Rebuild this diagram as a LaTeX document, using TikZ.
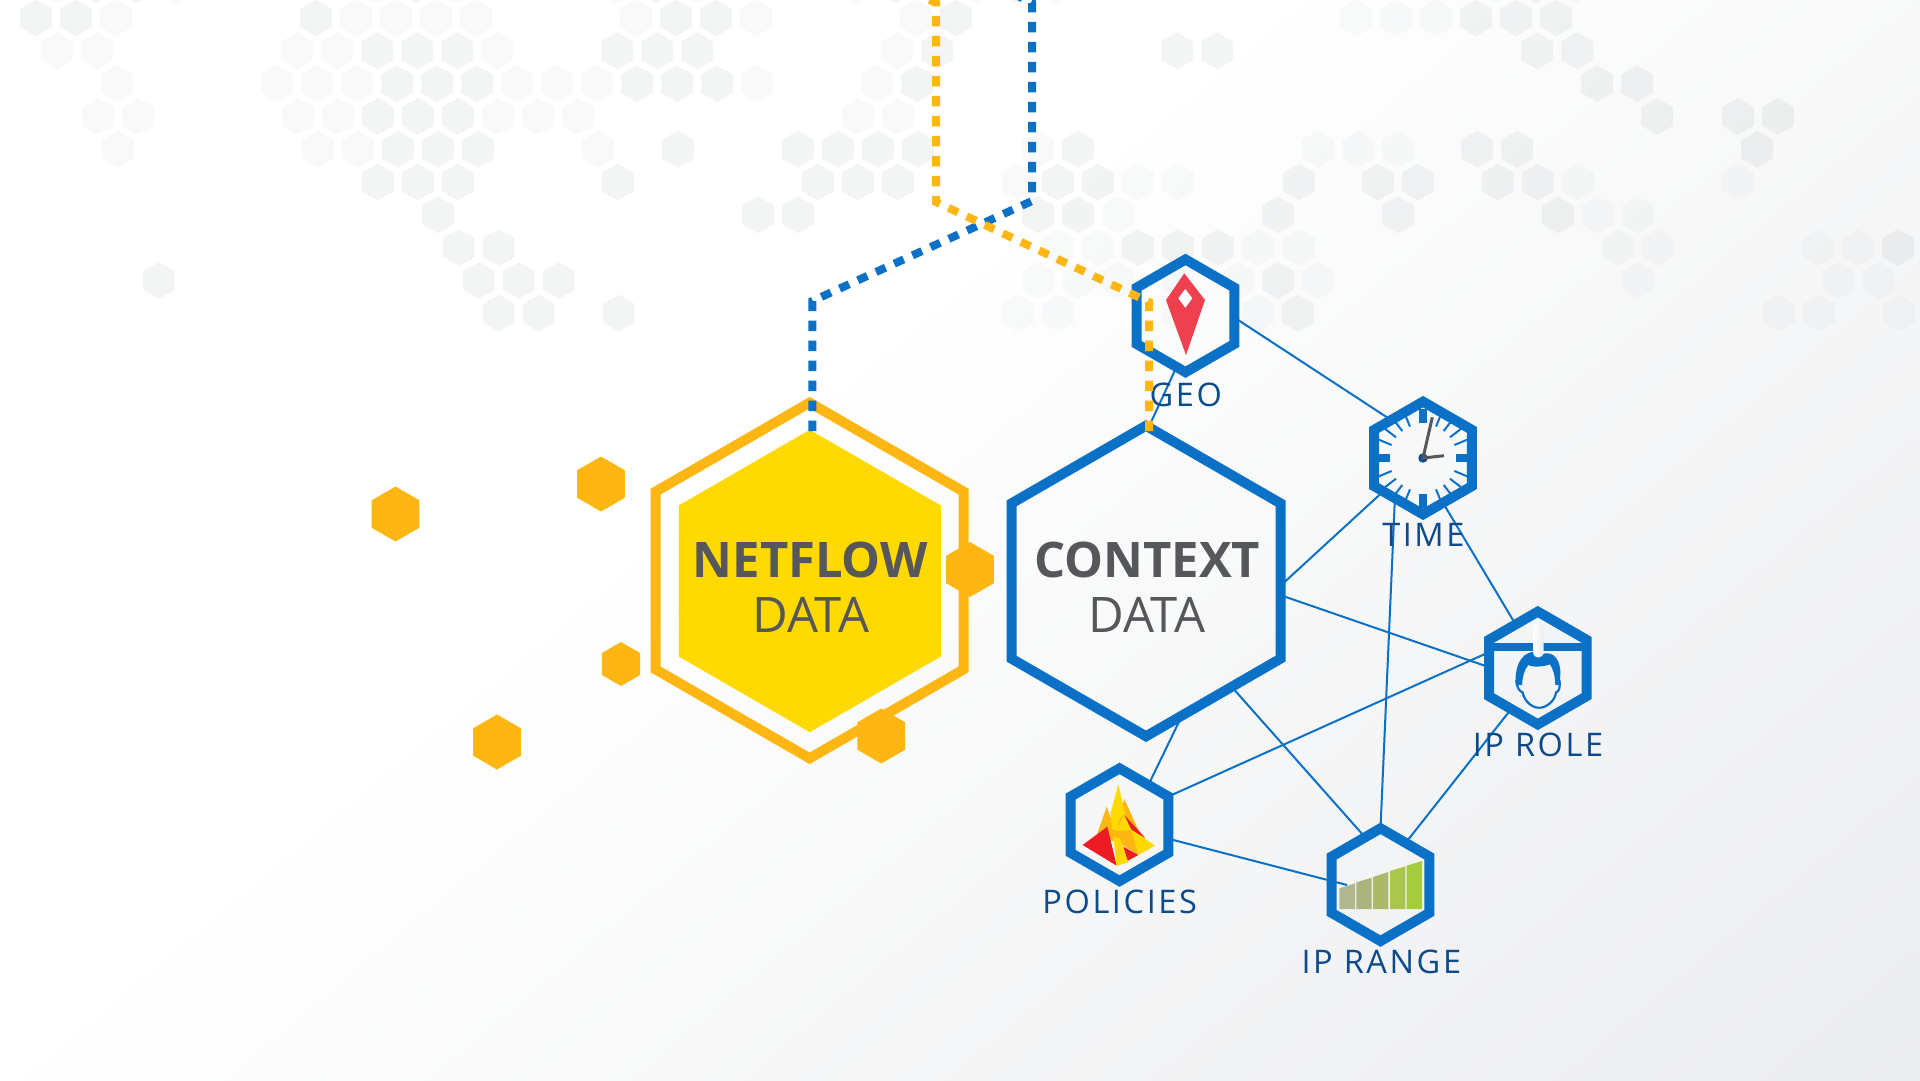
\documentclass[tikz,border=0pt]{standalone}
\usepackage{fontspec}
\usetikzlibrary{shapes.geometric}
\setmainfont{Open Sans}
\newfontfamily\tagfont[LetterSpace=8]{Open Sans}
\definecolor{wash}{HTML}{EBECEE}
\definecolor{mapgray}{HTML}{4E5F62}
\definecolor{linkblue}{HTML}{0A71C6}
\definecolor{tagblue}{HTML}{0B4A8B}
\definecolor{amber}{HTML}{FEB612}
\definecolor{netyellow}{HTML}{FFD900}
\definecolor{inkgray}{HTML}{55575A}
\definecolor{pinred}{HTML}{EF404F}
\definecolor{firered}{HTML}{ED1C24}
\definecolor{barone}{HTML}{B0B78C}
\definecolor{bartwo}{HTML}{ABB47D}
\definecolor{barthree}{HTML}{ABB968}
\definecolor{barfour}{HTML}{ABC64F}
\definecolor{barfive}{HTML}{A5CC3A}
\pgfdeclarehorizontalshading{washfill}{100bp}{color(0bp)=(white); color(46bp)=(white); color(68.4bp)=(wash); color(100bp)=(wash)}
\begin{document}
\begin{tikzpicture}[
  x=1pt,
  y=-1pt,
  hexbase/.style={
    regular polygon,
    regular polygon sides=6,
    shape border rotate=30,
    inner sep=0pt,
    outer sep=0pt
  },
  hexdark/.style={hexbase, fill=mapgray, fill opacity=0.065, minimum size=36.8pt},
  hexlight/.style={hexbase, fill=mapgray, fill opacity=0.03, minimum size=36.8pt},
  spark/.style={hexbase, fill=amber, minimum size=55pt},
  bigring/.style={hexbase, draw=linkblue, line width=10pt, minimum size=310.6pt},
  iconring/.style={hexbase, draw=linkblue, line width=10pt, minimum size=112.7pt},
  link/.style={draw=linkblue, line width=2pt},
  bluedash/.style={draw=linkblue, line width=8pt, dash pattern=on 10.5pt off 9.5pt},
  amberdash/.style={draw=amber, line width=8pt, dash pattern=on 10.5pt off 9.5pt},
  headline/.style={font=\bfseries\fontsize{49}{51}\selectfont, text=inkgray, inner sep=0pt, text height=35pt, text depth=0pt},
  subline/.style={font=\fontsize{49}{51}\selectfont, text=inkgray, inner sep=0pt, text height=35pt, text depth=0pt},
  tag/.style={font=\tagfont\fontsize{32.5}{34}\selectfont, text=tagblue, inner sep=0pt, text height=23.2pt, text depth=0pt}
]
\useasboundingbox (0,0) rectangle (1920,1080);

% Background wash.
\begin{scope}
  \clip (0,0) rectangle (1920,1080);
  \shade[shading=washfill, shading angle=-50] (-440,-860) rectangle (2360,1940);
\end{scope}

% Map of pale hexagons.
\foreach \row/\cols in {
  -15/{96,136,416,656,896,1016,1536},
  18/{36,76,316,676,716,956,1476,1516,1556},
  50.8/{377,417,457,617,657,697,937,1177,1217,1537,1577},
  83.6/{397,437,477,637,677,717,917,1597,1637},
  116.4/{378,418,458,1657,1738,1778},
  149.2/{398,438,478,678,798,838,878,918,1078,1477,1517,1757},
  182/{378,418,458,618,818,858,898,1058,1098,1299,1378,1418,1498,1538},
  214.8/{438,758,798,1038,1078,1278,1398,1558},
  247.6/{459,499,1138,1178,1218,1898},
  280.4/{159,479,519,559,1278},
  313.2/{499,539,619,1298}}{
  \foreach \x in \cols {
    \node[hexdark] (mapd\row-\x) at (\x,\row) {};
  }
}
\foreach \row/\cols in {
  -15/{56,176,376,456,616,696,856,976,1056,1496,1576},
  18/{116,356,396,436,476,636,756,916,1356,1396,1436},
  50.8/{57,97,297,337,497,897},
  83.6/{117,277,317,357,517,557,597,757,877},
  116.4/{98,138,298,338,498,538,578,858,898},
  149.2/{118,318,358,598,1038,1318,1358,1398},
  182/{1018,1138,1178,1578,1738},
  214.8/{1118,1598,1638},
  247.6/{1058,1098,1258,1299,1618,1658,1818,1858},
  280.4/{1038,1078,1118,1178,1238,1318,1638,1839,1879},
  313.2/{1018,1058,1178,1258,1779,1819,1899}}{
  \foreach \x in \cols {
    \node[hexlight] (mapl\row-\x) at (\x,\row) {};
  }
}

\node[hexbase, draw=amber, line width=10pt, minimum size=355.6pt] (netring) at (809.6,580.5) {};
\node[hexbase, fill=netyellow, minimum size=302.4pt] (netcore) at (809.8,581) {};
\node[bigring] (context) at (1146,581) {};

\node[headline] (nettitle) at (810.3,560) {NETFLOW};
\node[subline] (netsub) at (811,614.5) {DATA};
\node[headline] (contitle) at (1147.2,560) {CONTEXT};
\node[subline] (consub) at (1147,614.5) {DATA};

\node[spark] (s1) at (395.5,514) {};
\node[spark] (s2) at (601,484) {};
\node[spark] (s3) at (970,569.5) {};
\node[spark] (s4) at (881.3,736) {};
\node[spark] (s5) at (497,742) {};
\node[spark, minimum size=44pt] (s6) at (621,664) {};

\node[iconring] (geo) at (1185.5,315.8) {};
\node[iconring] (time) at (1423,458) {};
\node[iconring] (iprole) at (1537.8,668) {};
\node[iconring] (policies) at (1119.5,824.7) {};
\node[iconring] (iprange) at (1380.5,884.7) {};

% Pin.
\fill[pinred] (1184.3,273.3) -- (1205,300) -- (1186,355) -- (1166,300) -- cycle;
\fill[white] (1185.3,289) -- (1192.3,298.3) -- (1185.3,307.7) -- (1178.3,298.3) -- cycle;

% Clock.
\foreach \q in {0,90,180,270} {
  \foreach \a in {22.5,37.5,52.5,67.5} {
    \draw[linkblue, line width=2pt] (time.center) ++(\q+\a:34) -- ++(\q+\a:14);
  }
}
\foreach \a in {0,180} {
  \draw[linkblue, line width=8pt] (time.center) ++(\a:33) -- ++(\a:13);
}
\foreach \a in {90,270} {
  \draw[linkblue, line width=8pt] (time.center) ++(\a:35.5) -- ++(\a:14);
}
\fill[tagblue] (time.center) circle (4.7);
\draw[inkgray, line width=3pt] (1432.3,417.3) -- (time.center) -- (1444,455.7);

% Face.
\begin{scope}[shift={(1500,635)}, x=0.3333pt, y=-0.3333pt]
  \fill[linkblue] (48,150) .. controls (42,100) and (60,55) .. (100,50) -- (115,65) -- (135,55)
    .. controls (175,50) and (190,100) .. (176,150) -- (166,150)
    .. controls (165,120) and (160,105) .. (150,88)
    .. controls (130,95) and (100,98) .. (85,90)
    .. controls (72,105) and (68,125) .. (66,150) -- cycle;
  \draw[linkblue, line width=2.2pt] (49,135) .. controls (50,160) and (60,170) .. (68,172)
    .. controls (72,200) and (100,220) .. (117,218)
    .. controls (135,220) and (165,200) .. (168,172)
    .. controls (176,170) and (182,160) .. (178,135);
\end{scope}
\fill[linkblue] (1489,643.3) rectangle (1587,651);
\shade[left color=white, right color=wash, rounded corners=5pt] (1533,622.7) rectangle (1543.6,657.5);

% Flame.
\begin{scope}[shift={(1070,775)}, x=0.3333pt, y=-0.3333pt]
  \fill[amber] (78,187) -- (110,95) -- (130,150) -- (140,200) -- cycle;
  \fill[amber] (145,125) -- (163,72) -- (205,165) -- (225,190) -- (205,240) -- (165,215) -- (130,190) -- (125,160) -- cycle;
  \fill[netyellow] (122,115) -- (145,28) -- (165,115) -- (150,130) -- (140,170) -- (125,160) -- cycle;
  \fill[netyellow] (140,168) -- (163,115) -- (186,165) -- cycle;
  \fill[firered] (163,120) -- (225,188) -- (185,165) -- cycle;
  \fill[netyellow] (185,165) -- (255,212) -- (205,240) -- cycle;
  \fill[firered] (38,210) -- (112,155) -- (140,272) -- cycle;
  \fill[firered] (160,215) -- (205,240) -- (172,258) -- cycle;
  \fill[netyellow] (130,185) -- (150,190) -- (175,262) -- (140,272) -- cycle;
\end{scope}

% Bars.
\fill[barone] (1339.3,909) -- (1339.3,888.3) -- (1355,883.3) -- (1355,909) -- cycle;
\fill[bartwo] (1356.3,909) -- (1356.3,882.3) -- (1371.7,877.7) -- (1371.7,909) -- cycle;
\fill[barthree] (1373,909) -- (1373,877) -- (1388.3,872) -- (1388.3,909) -- cycle;
\fill[barfour] (1390,909) -- (1390,871) -- (1405.3,866.3) -- (1405.3,909) -- cycle;
\fill[barfive] (1406.7,909) -- (1406.7,865.7) -- (1422,861) -- (1422,909) -- cycle;

\coordinate (barport) at (1347,885);
\draw[link] (geo.-2) -- (time.130);
\draw[link] (geo.-100) -- (context.89);
\draw[link] (time.-140) -- (context.-2);
\draw[link] (time.-125) -- (iprange.90);
\draw[link] (time.-66) -- (iprole.117);
\draw[link] (context.-6) -- (iprole.179);
\draw[link] (policies.30) -- (iprole.162);
\draw[link] (context.-75) -- (policies.54);
\draw[link] (context.-51) -- (iprange.108);
\draw[link] (iprole.-123) -- (iprange.59);
\draw[link] (policies.-16) -- (barport);

\node[tag] (geotag) at (1185.8,394.5) {GEO};
\node[tag] (timetag) at (1423.4,534.7) {TIME};
\node[tag] (roletag) at (1538,744.7) {IP ROLE};
\node[tag] (policytag) at (1119.7,901.7) {POLICIES};
\node[tag] (rangetag) at (1381.3,961.7) {IP RANGE};

% Dashed feeds.
\coordinate (netport) at (812.3,431);
\coordinate (conport) at (1149,431);
\coordinate (blueb) at (812.3,301);
\coordinate (bluec) at (1032,201);
\coordinate (blued) at (1032,3);
\coordinate (bluee) at (1016,-5);
\coordinate (amberb) at (1149,302);
\coordinate (amberc) at (936,202);
\coordinate (amberd) at (936,3);
\coordinate (ambere) at (920,-5);
\draw[bluedash] (netport) -- (blueb) -- (bluec) -- (blued) -- (bluee);
\draw[amberdash] (conport) -- (amberb) -- (amberc) -- (amberd) -- (ambere);

\end{tikzpicture}
\end{document}
